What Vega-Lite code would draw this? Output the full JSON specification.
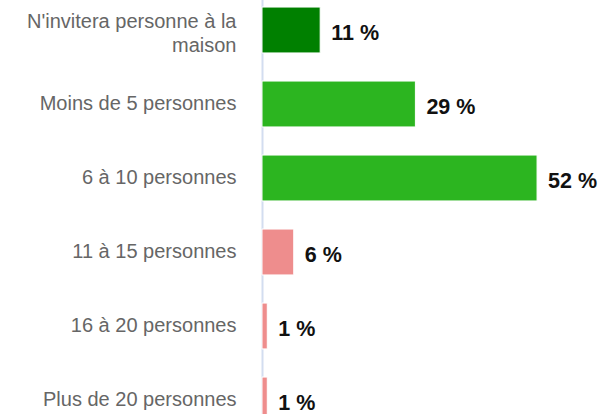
{
  "$schema": "https://vega.github.io/schema/vega-lite/v6.json",
  "autosize": {"type": "none"},
  "width": 347,
  "height": 444,
  "padding": {"left": 262, "top": -7, "right": 0, "bottom": 0},
  "background": "white",
  "config": {"view": {"stroke": null}, "font": "Liberation Sans"},
  "data": {"values": [
    {"cat": "N'invitera personne à la|maison", "pct": 11, "lbl": "11 %", "grp": "a"},
    {"cat": "Moins de 5 personnes", "pct": 29, "lbl": "29 %", "grp": "b"},
    {"cat": "6 à 10 personnes", "pct": 52, "lbl": "52 %", "grp": "b"},
    {"cat": "11 à 15 personnes", "pct": 6, "lbl": "6 %", "grp": "c"},
    {"cat": "16 à 20 personnes", "pct": 1, "lbl": "1 %", "grp": "c"},
    {"cat": "Plus de 20 personnes", "pct": 1, "lbl": "1 %", "grp": "c"}
  ]},
  "encoding": {
    "y": {"field": "cat", "type": "nominal", "sort": null,
      "scale": {"paddingInner": 0.38, "paddingOuter": 0.19},
      "axis": {"title": null, "ticks": false, "labelPadding": 26, "labelFontSize": 20, "labelColor": "#666666",
        "labelFont": "Liberation Sans",
        "labelExpr": "split(datum.label, '|')", "labelLineHeight": 24, "labelLimit": 300,
        "labelOffset": {"condition": {"test": "indexof(datum.value, '|') >= 0", "value": -8}, "value": 0},
        "domainColor": "#d3ddf0", "domainWidth": 2, "zindex": 0}},
    "x": {"field": "pct", "type": "quantitative", "scale": {"domain": [0, 65.6], "nice": false}, "axis": null}
  },
  "layer": [
    {"mark": {"type": "bar", "stroke": "white", "strokeWidth": 1},
     "encoding": {"color": {"field": "grp", "type": "nominal", "legend": null,
       "scale": {"domain": ["a", "b", "c"], "range": ["#008000", "#2cb520", "#ee8d8d"]}}}},
    {"mark": {"type": "text", "align": "left", "baseline": "middle", "dx": 11, "dy": 4, "fontSize": 21.5, "fontWeight": "bold", "color": "#111111", "font": "Liberation Sans"},
     "encoding": {"text": {"field": "lbl", "type": "nominal"}}}
  ]
}
